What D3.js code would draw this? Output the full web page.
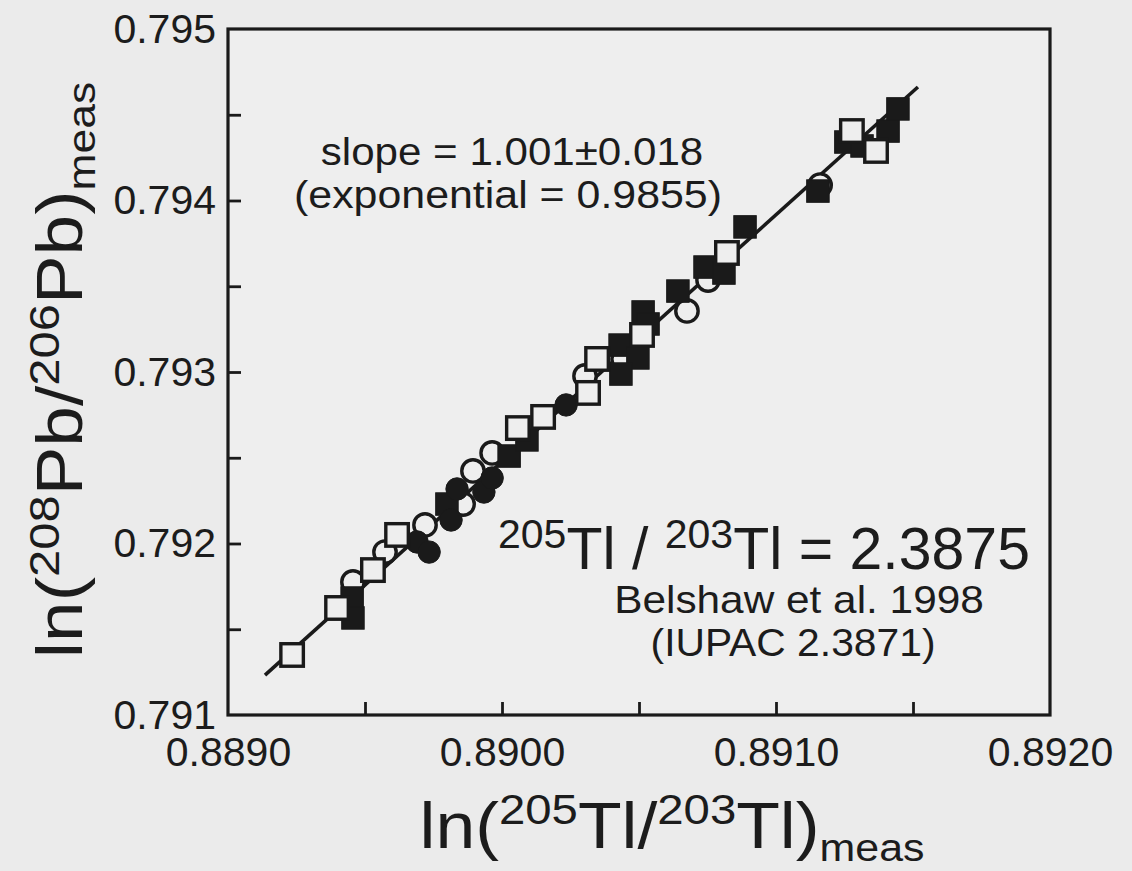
<!DOCTYPE html>
<html>
<head>
<meta charset="utf-8">
<script src="https://cdn.jsdelivr.net/npm/d3@7"></script>
<style>
  html, body { margin: 0; padding: 0; background: #ebebeb; }
  svg { display: block; }
  text { font-family: "Liberation Sans", Arial, Helvetica, sans-serif; fill: #1c1c1c; }
</style>
</head>
<body>
<svg id="chart" width="1132" height="871"></svg>
<script>
// Measured mass-bias data: [ln(205Tl/203Tl), ln(208Pb/206Pb)]
const openSquares = [
  [0.889234, 0.791350], [0.889398, 0.791624], [0.889529, 0.791845],
  [0.889617, 0.792050], [0.890058, 0.792673], [0.890150, 0.792738],
  [0.890314, 0.792878], [0.890347, 0.793076], [0.890511, 0.793216],
  [0.890821, 0.793694], [0.891277, 0.794405], [0.891365, 0.794289]
];
const filledSquares = [
  [0.889453, 0.791682], [0.889456, 0.791566], [0.889799, 0.792230],
  [0.890026, 0.792510], [0.890091, 0.792604], [0.890431, 0.793157],
  [0.890496, 0.793082], [0.890434, 0.792988], [0.890515, 0.793350],
  [0.890533, 0.793280], [0.890642, 0.793472], [0.890741, 0.793612],
  [0.890810, 0.793577], [0.890887, 0.793846], [0.891153, 0.794055],
  [0.891255, 0.794341], [0.891314, 0.794318], [0.891409, 0.794405],
  [0.891445, 0.794534]
];
const openCircles = [
  [0.889456, 0.791776], [0.889573, 0.791950], [0.889719, 0.792108],
  [0.889858, 0.792230], [0.889894, 0.792423], [0.889964, 0.792528],
  [0.890303, 0.792977], [0.890442, 0.793076], [0.890675, 0.793356],
  [0.890752, 0.793536], [0.891161, 0.794090]
];
const filledCircles = [
  [0.889690, 0.792009], [0.889734, 0.791950], [0.889814, 0.792137],
  [0.889836, 0.792318], [0.889934, 0.792300], [0.889964, 0.792382],
  [0.890234, 0.792808]
];
// Regression line end points
const fitLineX = [0.889135, 0.891518];
const fitLineY = [0.791233, 0.794662];

// Axis ticks
const xDomain = [0.8890, 0.8920];
const yDomain = [0.791, 0.795];
const xLabelTicks = [0.8890, 0.8900, 0.8910, 0.8920];
const xMarkTicks = [0.8895, 0.8900, 0.8905, 0.8910, 0.8915];
const yLabelTicks = [0.791, 0.792, 0.793, 0.794, 0.795];
const yMarkTicks = [0.7915, 0.7920, 0.7925, 0.7930, 0.7935, 0.7940, 0.7945];

const svg = d3.select("#chart");
const W = 1132, H = 871;
const plot = { left: 228, right: 1050, top: 29, bottom: 715 };

const x = d3.scaleLinear().domain(xDomain).range([plot.left, plot.right]);
const y = d3.scaleLinear().domain(yDomain).range([plot.bottom, plot.top]);

const ink = "#1a1a1a";
const paper = "#eeeeee";

svg.append("rect").attr("width", W).attr("height", H).attr("fill", "#ebebeb");
svg.append("rect")
  .attr("x", plot.left).attr("y", plot.top)
  .attr("width", plot.right - plot.left).attr("height", plot.bottom - plot.top)
  .attr("fill", paper);

// Inward tick marks
const xTicks = svg.append("g")
  .attr("transform", `translate(0,${plot.bottom})`)
  .call(d3.axisBottom(x).tickValues(xMarkTicks).tickSize(-13).tickFormat(""));
const yTicks = svg.append("g")
  .attr("transform", `translate(${plot.left},0)`)
  .call(d3.axisLeft(y).tickValues(yMarkTicks).tickSize(-13).tickFormat(""));
[xTicks, yTicks].forEach(g => {
  g.select(".domain").remove();
  g.selectAll(".tick line").attr("stroke", ink).attr("stroke-width", 2.8);
});

// Tick labels
const xLab = svg.append("g")
  .attr("transform", `translate(0,${plot.bottom})`)
  .call(d3.axisBottom(x).tickValues(xLabelTicks).tickSize(0).tickPadding(22)
    .tickFormat(d3.format(".4f")));
const yLab = svg.append("g")
  .attr("transform", `translate(${plot.left},0)`)
  .call(d3.axisLeft(y).tickValues(yLabelTicks).tickSize(0).tickPadding(12)
    .tickFormat(d3.format(".3f")));
[xLab, yLab].forEach(g => {
  g.select(".domain").remove();
  g.selectAll(".tick text")
    .attr("fill", ink)
    .style("font-size", "41px")
    .style("font-family", "'Liberation Sans', Arial, sans-serif");
});

// Frame
svg.append("rect")
  .attr("x", plot.left).attr("y", plot.top)
  .attr("width", plot.right - plot.left).attr("height", plot.bottom - plot.top)
  .attr("fill", "none").attr("stroke", ink).attr("stroke-width", 3.2);

// Regression line
svg.append("line")
  .attr("x1", x(fitLineX[0])).attr("y1", y(fitLineY[0]))
  .attr("x2", x(fitLineX[1])).attr("y2", y(fitLineY[1]))
  .attr("stroke", ink).attr("stroke-width", 3.6);

// Markers
const sq = 22.5, rad = 11.2;
function squares(data, filled) {
  svg.append("g").selectAll("rect").data(data).join("rect")
    .attr("x", d => x(d[0]) - sq / 2).attr("y", d => y(d[1]) - sq / 2)
    .attr("width", sq).attr("height", sq)
    .attr("fill", filled ? ink : paper)
    .attr("stroke", ink).attr("stroke-width", filled ? 1 : 3.4);
}
function circles(data, filled) {
  svg.append("g").selectAll("circle").data(data).join("circle")
    .attr("cx", d => x(d[0])).attr("cy", d => y(d[1])).attr("r", rad)
    .attr("fill", filled ? ink : paper)
    .attr("stroke", ink).attr("stroke-width", filled ? 1 : 3.4);
}
circles(openCircles, false);
squares(filledSquares, true);
circles(filledCircles, true);
squares(openSquares, false);

// Text with super/subscript runs; sx widens the glyphs along the baseline
function addText(xp, yp, anchor, parts, opts = {}) {
  const sx = opts.sx || 1;
  const t = svg.append("text")
    .attr("text-anchor", anchor)
    .attr("transform", `translate(${xp},${yp})` +
      (opts.rotate ? " rotate(-90)" : "") + ` scale(${sx},1)`);
  let shift = 0;
  parts.forEach(p => {
    const target = p.dy || 0;
    t.append("tspan")
      .attr("dy", target - shift)
      .style("font-size", p.size + "px")
      .text(p.t);
    shift = target;
  });
  return t;
}

addText(512, 165, "middle", [{ t: "slope = 1.001±0.018", size: 39 }], { sx: 1.08 });
addText(508, 208, "middle", [{ t: "(exponential = 0.9855)", size: 39 }], { sx: 1.1 });

addText(1030, 569, "end", [
  { t: "205", size: 41, dy: -21 },
  { t: "Tl / ", size: 59 },
  { t: "203", size: 41, dy: -21 },
  { t: "Tl = 2.3875", size: 59 }
]);
addText(799, 613, "middle", [{ t: "Belshaw et al. 1998", size: 38.5 }], { sx: 1.1 });
addText(793, 656, "middle", [{ t: "(IUPAC 2.3871)", size: 38.5 }], { sx: 1.06 });

// Axis titles
addText(672, 848, "middle", [
  { t: "ln(", size: 65 },
  { t: "205", size: 43, dy: -24 },
  { t: "Tl/", size: 65 },
  { t: "203", size: 43, dy: -24 },
  { t: "Tl)", size: 65 },
  { t: "meas", size: 39, dy: 13 }
], { sx: 1.1 });
addText(82, 370, "middle", [
  { t: "ln(", size: 64 },
  { t: "208", size: 43, dy: -23 },
  { t: "Pb/", size: 64 },
  { t: "206", size: 43, dy: -23 },
  { t: "Pb)", size: 64 },
  { t: "meas", size: 39, dy: 13 }
], { rotate: true, sx: 1.14 });
</script>
</body>
</html>
